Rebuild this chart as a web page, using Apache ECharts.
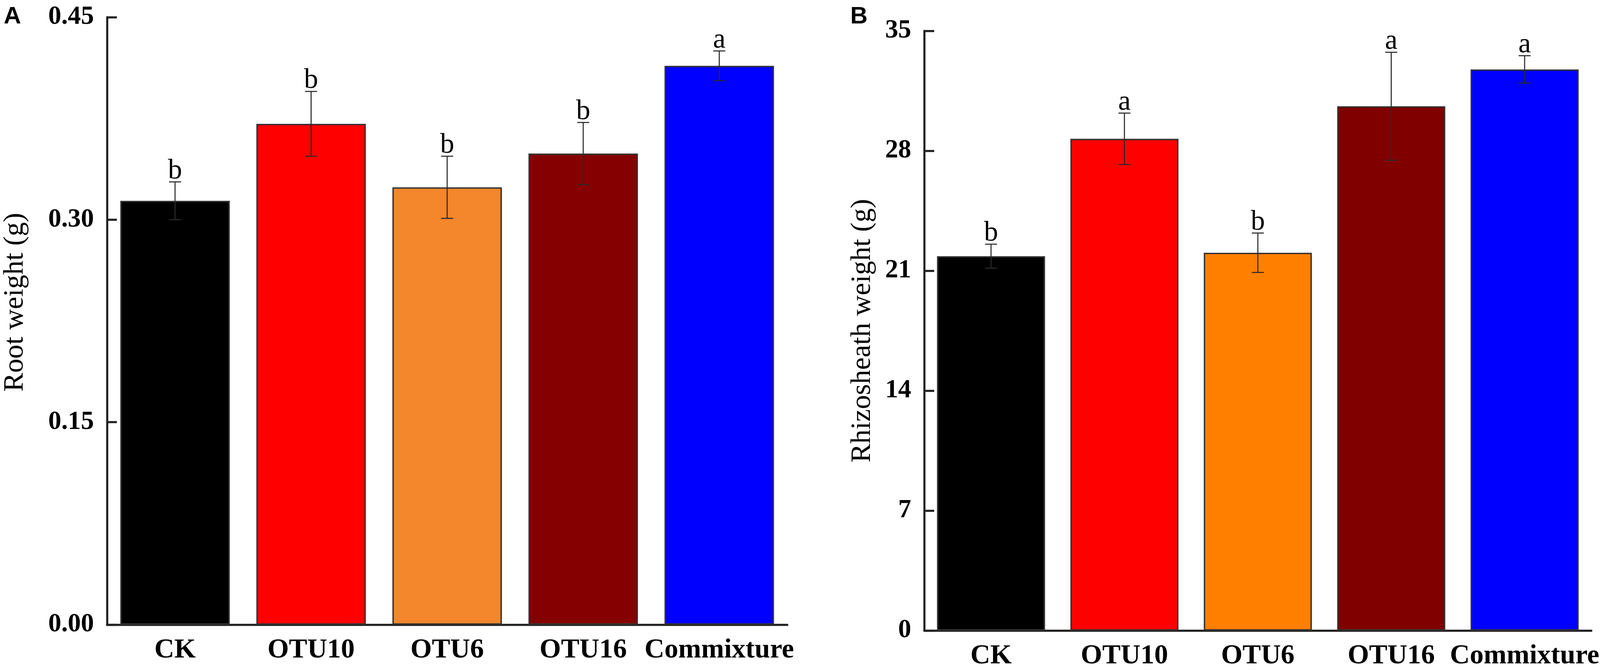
<!DOCTYPE html>
<html>
<head>
<meta charset="utf-8">
<script src="https://cdn.jsdelivr.net/npm/echarts@6/dist/echarts.min.js"></script>
<style>
html,body{margin:0;padding:0;background:#fff;overflow:hidden;}
#chart{width:100vw;height:100vh;}
</style>
</head>
<body>
<div id="chart"></div>
<script>
// ---- data ----
const categories = ['CK', 'OTU10', 'OTU6', 'OTU16', 'Commixture'];
const rootWeight = [0.314, 0.371, 0.324, 0.349, 0.414];
const rootErr = [0.014, 0.024, 0.023, 0.023, 0.011];
const rootLetters = ['b', 'b', 'b', 'b', 'a'];
const rhizoWeight = [21.85, 28.7, 22.05, 30.6, 32.75];
const rhizoErr = [0.7, 1.5, 1.15, 3.15, 0.8];
const rhizoLetters = ['b', 'a', 'b', 'a', 'a'];
const rootTicks = [0, 0.15, 0.30, 0.45];
const rhizoTicks = [0, 7, 14, 21, 28, 35];

// ---- styles ----
const colorsA = ['#000000', '#FF0000', '#F4862B', '#850000', '#0000FF'];
const colorsB = ['#000000', '#FF0000', '#FF8000', '#800000', '#0000FF'];
const SERIF = '"Liberation Serif", "Times New Roman", serif';
const SANS = '"Liberation Sans", Arial, sans-serif';

const el = document.getElementById('chart');
const W = el.clientWidth || 4530;
const H = el.clientHeight || 1715;
const sx = W / 4530, sy = H / 1715, s = Math.min(sx, sy);

const chart = echarts.init(el, null, {renderer: 'canvas', width: W, height: H});

function errSeries(axisIdx, vals, errs, letters) {
  return {
    type: 'custom',
    xAxisIndex: axisIdx,
    yAxisIndex: axisIdx,
    z: 10,
    data: vals.map((v, i) => [i, v, errs[i]]),
    encode: {x: 0, y: 1},
    renderItem: function (params, api) {
      const i = api.value(0);
      const v = api.value(1);
      const e = api.value(2);
      const top = api.coord([i, v + e]);
      const bot = api.coord([i, v - e]);
      const cap = 17 * sx;
      const st = {stroke: '#2a2a2a', lineWidth: 3 * s};
      return {
        type: 'group',
        children: [
          {type: 'line', shape: {x1: top[0], y1: top[1], x2: bot[0], y2: bot[1]}, style: st},
          {type: 'line', shape: {x1: top[0] - cap, y1: top[1], x2: top[0] + cap, y2: top[1]}, style: st},
          {type: 'line', shape: {x1: bot[0] - cap, y1: bot[1], x2: bot[0] + cap, y2: bot[1]}, style: st},
          {type: 'text', x: top[0], y: top[1] + 9 * s,
           style: {text: letters[params.dataIndex], fontFamily: SERIF, fontSize: 80 * s,
                   fill: '#000', align: 'center', verticalAlign: 'bottom'}}
        ]
      };
    }
  };
}

function xAxisCfg(gi) {
  return {
    type: 'category', gridIndex: gi, data: categories,
    axisTick: {show: false},
    axisLine: {lineStyle: {color: '#222', width: 6 * s}},
    axisLabel: {interval: 0, margin: 30 * sy, color: '#000', fontFamily: SERIF, fontWeight: 'bold', fontSize: 78 * s}
  };
}

function yAxisCfg(gi, ticks, name, nameGap, fmt, padding) {
  return {
    type: 'value', gridIndex: gi,
    min: ticks[0], max: ticks[ticks.length - 1], interval: ticks[1] - ticks[0],
    name: name, nameLocation: 'middle', nameGap: nameGap * sx, nameRotate: 90,
    nameTextStyle: {fontFamily: SERIF, fontSize: 80 * s, color: '#000', padding: padding.map(p => p * s)},
    axisLine: {show: true, lineStyle: {color: '#222', width: 6 * s}},
    axisTick: {show: true, inside: true, length: 28 * sx, lineStyle: {color: '#222', width: 6 * s}},
    splitLine: {show: false},
    axisLabel: {margin: 37 * sx, color: '#000', fontFamily: SERIF, fontWeight: 'bold', fontSize: 74 * s, formatter: fmt}
  };
}

chart.setOption({
  animation: false,
  backgroundColor: '#ffffff',
  title: [
    {text: 'A', left: 5 * sx, top: 8 * sy, textStyle: {fontFamily: SANS, fontWeight: 'bold', fontSize: 68 * s, color: '#000'}},
    {text: 'B', left: 2402 * sx, top: 8 * sy, textStyle: {fontFamily: SANS, fontWeight: 'bold', fontSize: 68 * s, color: '#000'}}
  ],
  grid: [
    {left: 303 * sx, top: 44 * sy, width: 1926 * sx, height: 1555 * sy},
    {left: 2617 * sx, top: 79 * sy, width: 1903 * sx, height: 1537 * sy}
  ],
  xAxis: [xAxisCfg(0), xAxisCfg(1)],
  yAxis: [
    yAxisCfg(0, rootTicks, 'Root weight (g)', 220, v => v.toFixed(2), [0, 0, 0, 106]),
    yAxisCfg(1, rhizoTicks, 'Rhizosheath weight (g)', 135, v => String(v), [0, 0, 0, 0])
  ],
  series: [
    {
      type: 'bar', xAxisIndex: 0, yAxisIndex: 0, barWidth: 310 * sx,
      data: rootWeight.map((v, i) => ({value: v, itemStyle: {color: colorsA[i]}})),
      itemStyle: {borderColor: '#333', borderWidth: 4 * s}
    },
    errSeries(0, rootWeight, rootErr, rootLetters),
    {
      type: 'bar', xAxisIndex: 1, yAxisIndex: 1, barWidth: 306 * sx,
      data: rhizoWeight.map((v, i) => ({value: v, itemStyle: {color: colorsB[i]}})),
      itemStyle: {borderColor: '#333', borderWidth: 4 * s}
    },
    errSeries(1, rhizoWeight, rhizoErr, rhizoLetters)
  ]
});
</script>
</body>
</html>
